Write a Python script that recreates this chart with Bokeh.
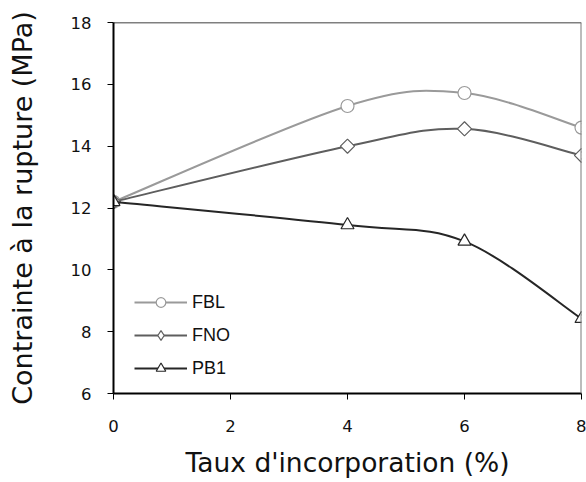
import numpy as np
from bokeh.plotting import figure
from bokeh.models import Range1d, Span, Legend, LegendItem, SingleIntervalTicker
from bokeh.embed import file_html
from bokeh.resources import INLINE

# ---- data ----
x_vals = [0, 4, 6, 8]
fbl = [12.2, 15.3, 15.72, 14.6]
fno = [12.2, 14.0, 14.56, 13.7]
pb1 = [12.2, 11.45, 10.92, 8.42]
series_names = ["FBL", "FNO", "PB1"]
x_title = "Taux d'incorporation (%)"
y_title = "Contrainte à la rupture (MPa)"


def bezier_segments(xs, ys, t=1.0 / 6.0):
    """Smoothed-line control points (Catmull-Rom style) derived from the data."""
    xs = np.asarray(xs, float)
    ys = np.asarray(ys, float)
    n = len(xs)
    qx = np.concatenate([[xs[0]], xs, [xs[-1]]])
    qy = np.concatenate([[ys[0]], ys, [ys[-1]]])
    cx0 = qx[1:n] + (qx[2:n + 1] - qx[0:n - 1]) * t
    cy0 = qy[1:n] + (qy[2:n + 1] - qy[0:n - 1]) * t
    cx1 = qx[2:n + 1] - (qx[3:n + 2] - qx[1:n]) * t
    cy1 = qy[2:n + 1] - (qy[3:n + 2] - qy[1:n]) * t
    return dict(x0=xs[:-1], y0=ys[:-1], x1=xs[1:], y1=ys[1:],
                cx0=cx0, cy0=cy0, cx1=cx1, cy1=cy1)


p = figure(width=586, height=482, output_backend="svg", toolbar_location=None,
           x_range=Range1d(0, 8), y_range=Range1d(6, 18),
           min_border_left=113, min_border_right=5, min_border_top=22,
           min_border_bottom=89)
p.outline_line_color = None
p.grid.visible = False
p.background_fill_color = "white"
p.border_fill_color = "white"

for ax in (p.xaxis[0], p.yaxis[0]):
    ax.axis_line_color = "black"
    ax.axis_line_width = 2
    ax.major_tick_line_color = "black"
    ax.major_tick_line_width = 1
    ax.major_tick_out = 6
    ax.major_tick_in = 0
    ax.minor_tick_line_color = None
    ax.major_label_text_font = "DejaVu Sans"
    ax.major_label_text_font_size = "16.5px"
    ax.major_label_text_color = "#111111"
    ax.axis_label_text_font = "DejaVu Sans"
    ax.axis_label_text_font_style = "normal"
    ax.axis_label_text_color = "#111111"

p.xaxis.axis_label_text_font_size = "26.5px"
p.yaxis.axis_label_text_font_size = "27px"
p.xaxis.ticker = SingleIntervalTicker(interval=2)
p.yaxis.ticker = SingleIntervalTicker(interval=2)
p.xaxis.axis_label = x_title
p.yaxis.axis_label = y_title
p.xaxis.major_label_standoff = 20
p.xaxis.axis_label_standoff = 12
p.yaxis.major_label_standoff = 16
p.yaxis.axis_label_standoff = 30

# plot-area border: top black, right grey
p.add_layout(Span(location=18, dimension="width", line_color="black", line_width=1.5))
p.add_layout(Span(location=8, dimension="height", line_color="#7a7a7a", line_width=2))

colors = ["#9a9a9a", "#5e5e5e", "#262626"]
markers = [("circle", 13, 0.0), ("square", 10, np.pi / 4), ("triangle", 13, 0.0)]
legend_markers = ["circle", "diamond", "triangle"]
items = []
for name, ys, col, (mk, sz, ang), lmk in zip(series_names, [fbl, fno, pb1], colors,
                                               markers, legend_markers):
    seg = bezier_segments(x_vals, ys)
    curve = p.bezier(line_color=col, line_width=2, **seg)
    # legend-shaped marker hidden underneath the chart marker
    lsc = p.scatter(x_vals, ys, marker=lmk, size=8, fill_color="white",
                    line_color=col, line_width=1.2)
    p.scatter(x_vals, ys, marker=mk, size=sz, angle=ang,
              fill_color="white", line_color=col, line_width=1.2)
    items.append(LegendItem(label=name, renderers=[curve, lsc]))

legend = Legend(items=items, location=(21, 13))
legend.glyph_width = 53
legend.glyph_height = 24
legend.label_height = 24
legend.spacing = 9
legend.padding = 0
legend.margin = 0
legend.border_line_color = None
legend.background_fill_alpha = 0
legend.label_standoff = 5
legend.label_text_font = "Liberation Sans"
legend.label_text_font_size = "18px"
legend.label_text_color = "#111111"
p.add_layout(legend)

open("out.html", "w").write(file_html(p, INLINE))
